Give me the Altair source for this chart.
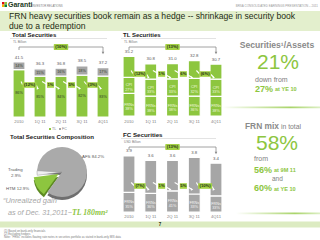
import math
import altair as alt
import pandas as pd

FONT = "Liberation Sans"
GREEN = "#8dc63f"
BOX = "#a4d145"
GRAY = "#a6a6a6"
DARK = "#1e2d14"
TGRAY = "#808080"

# ---------------- data ----------------
periods = ["2010", "1Q 11", "2Q 11", "3Q 11", "4Q11"]

total_vals = [41.5, 36.3, 36.8, 38.5, 37.2]
total_tl_pct = [86, 85, 84, 82, 83]
total_fc_pct = [14, 15, 16, 18, 17]
total_chg = ["(12%)", "1%", "5%", "(3%)"]
total_overall = "(10%)"

tl_vals = [35.2, 30.8, 31.0, 32.8, 30.7]
tl_cpi_pct = [27, 33, 33, 32, 33]
tl_frn_pct = [38, 38, 38, 36, 38]
tl_chg = ["(12%)", "1%", "6%", "(6%)"]
tl_overall = "(13%)"

fc_vals = [3.9, 3.6, 3.6, 3.8, 3.4]
fc_frn_pct = [35, 36, 41, 33, 33]
fc_chg = ["(7%)", "1%", "5%", "(10%)"]
fc_overall = "(13%)"

pie_cats = ["HTM", "Trading", "AFS"]
pie_vals = [12.9, 2.9, 84.2]

layers = []


def T(s, x, y, size=5, color=DARK, weight="normal", align="left", style="normal",
      font=FONT, baseline="middle"):
    return alt.Chart(pd.DataFrame({"t": [s]})).mark_text(
        align=align, baseline=baseline, fontSize=size, font=font, fontWeight=weight,
        fontStyle=style, color=color).encode(x=alt.value(x), y=alt.value(y), text="t:N")


def R(x, x2, y, y2, fill):
    return alt.Chart(pd.DataFrame({"k": [0]})).mark_rect(fill=fill).encode(
        x=alt.value(x), x2=alt.value(x2), y=alt.value(y), y2=alt.value(y2))


def seg_frame(totals, parts, shares, labels):
    rows = []
    for i, tot in enumerate(totals):
        base = 0.0
        for p, sh, lb in zip(parts, shares, labels):
            v = tot * sh[i] / 100.0
            rows.append({"idx": i, "part": p, "y0": base, "y1": base + v,
                         "ym": base + v / 2, "label": lb[i]})
            base += v
    return pd.DataFrame(rows)


def panel(seg, totals, chg, overall, x0, x1, ybot, ppu, parts, colors, lab_color,
          xlab_y, chg_y, br_y):
    xs = alt.Scale(domain=[0, 4], range=[x0, x1], nice=False, zero=False)
    ys = alt.Scale(domain=[0, 10], range=[ybot, ybot - 10 * ppu], nice=False, zero=False)
    step = (x1 - x0) / 4.0
    hw = 6.0 / step
    X = lambda f: alt.X(f, scale=xs, axis=None)
    Y = lambda f: alt.Y(f, scale=ys, axis=None)
    out = []
    seg = seg.assign(xa=seg.idx - hw, xb=seg.idx + hw)
    out.append(alt.Chart(seg).mark_rect(stroke="white", strokeWidth=1.2).encode(
        x=X("xa:Q"), x2="xb:Q", y=Y("y0:Q"), y2="y1:Q",
        color=alt.Color("part:N", scale=alt.Scale(domain=parts, range=colors), legend=None)))
    out.append(alt.Chart(seg[seg.label != ""]).mark_text(
        fontSize=3.8, font=FONT, color=lab_color, lineBreak="\n", lineHeight=4.4,
        align="center", baseline="middle").encode(x=X("idx:Q"), y=Y("ym:Q"), text="label:N"))
    tdf = pd.DataFrame({"idx": list(range(5)), "v": totals,
                        "s": [f"{v:.1f}" for v in totals]})
    out.append(alt.Chart(tdf).mark_text(fontSize=4.3, font=FONT, dy=-2.5, baseline="bottom",
                                        color="#595959").encode(
        x=X("idx:Q"), y=Y("v:Q"), text="s:N"))
    pdf = pd.DataFrame({"idx": list(range(5)), "p": periods})
    out.append(alt.Chart(pdf).mark_text(fontSize=4.2, font=FONT, color=TGRAY).encode(
        x=X("idx:Q"), y=alt.value(xlab_y), text="p:N"))
    # change labels with arrows
    cdf = pd.DataFrame({"c": [i + 0.5 for i in range(4)], "s": chg})
    cdf["bw"] = (cdf.s.str.len() * 2.3 + 2.5) / 2.0 / step
    cdf["l"] = cdf.c - cdf.bw
    cdf["r"] = cdf.c + cdf.bw
    cdf["a0"] = cdf.c - 0.4
    cdf["a1"] = cdf.c + 0.4
    out.append(alt.Chart(cdf).mark_rule(color="white", strokeWidth=1.1).encode(
        x=X("a0:Q"), x2="l:Q", y=alt.value(chg_y - 3.5), y2=alt.value(chg_y - 0.5)))
    out.append(alt.Chart(cdf).mark_rule(color="white", strokeWidth=1.1).encode(
        x=X("r:Q"), x2="a1:Q", y=alt.value(chg_y + 0.5), y2=alt.value(chg_y + 3.5)))
    out.append(alt.Chart(cdf).mark_point(shape="triangle-right", filled=True, size=7,
                                         color="white", opacity=1).encode(
        x=X("a1:Q"), y=alt.value(chg_y + 3.5)))
    out.append(alt.Chart(cdf).mark_rect(fill=BOX).encode(
        x=X("l:Q"), x2="r:Q", y=alt.value(chg_y - 2.8), y2=alt.value(chg_y + 2.8)))
    out.append(alt.Chart(cdf).mark_text(fontSize=4.2, font=FONT, fontWeight="bold",
                                        color=DARK).encode(
        x=X("c:Q"), y=alt.value(chg_y + 0.2), text="s:N"))
    # bracket
    bw = (len(overall) * 2.3 + 3) / 2.0 / step
    bdf = pd.DataFrame({"a": [0], "b": [4], "m": [2], "ml": [2 - bw], "mr": [2 + bw],
                        "s": [overall]})
    out.append(alt.Chart(bdf).mark_rule(color="#8c8c8c", strokeWidth=0.8).encode(
        x=X("a:Q"), x2="b:Q", y=alt.value(br_y)))
    out.append(alt.Chart(bdf).mark_rule(color="#8c8c8c", strokeWidth=0.8).encode(
        x=X("a:Q"), y=alt.value(br_y), y2=alt.value(br_y + 3)))
    out.append(alt.Chart(bdf).mark_rule(color="#8c8c8c", strokeWidth=0.8).encode(
        x=X("b:Q"), y=alt.value(br_y), y2=alt.value(br_y + 5.5)))
    out.append(alt.Chart(bdf).mark_point(shape="triangle-down", filled=True, size=7,
                                         color="#8c8c8c", opacity=1).encode(
        x=X("b:Q"), y=alt.value(br_y + 6)))
    out.append(alt.Chart(bdf).mark_rect(fill=BOX, cornerRadius=1).encode(
        x=X("ml:Q"), x2="mr:Q", y=alt.value(br_y - 3), y2=alt.value(br_y + 3)))
    out.append(alt.Chart(bdf).mark_text(fontSize=4.3, font=FONT, fontWeight="bold",
                                        color=DARK).encode(
        x=X("m:Q"), y=alt.value(br_y + 0.2), text="s:N"))
    return out


# ---------------- header & title band ----------------
layers.append(R(2, 4.5, 2, 4.5, "#e30613"))
layers.append(R(4.5, 7, 2, 4.5, GREEN))
layers.append(R(2, 4.5, 4.5, 7, "#f9b000"))
layers.append(R(4.5, 7, 4.5, 7, "#00843d"))
layers.append(T("Garanti", 8, 5, 7, color="#1b3a1b", weight="bold"))
layers.append(T("INVESTOR RELATIONS", 32, 5.3, 2.8, color="#7a7a7a"))
layers.append(T("BRSA CONSOLIDATED EARNINGS PRESENTATION – 2011", 318, 5.3, 3, color="#9a9a9a",
                align="right"))
layers.append(R(0, 320, 11, 31, "#e3efcd"))
layers.append(T("FRN heavy securities book remain as a hedge  -- shrinkage in security book",
                9, 16, 8.6, color=DARK))
layers.append(T("due to a redemption", 9, 26, 8.6, color=DARK))

# ---------------- section titles ----------------
layers.append(T("Total Securities", 12, 35, 6, weight="bold", color="#1a1a1a"))
layers.append(R(10, 107, 38.3, 38.8, "#c8c8c8"))
layers.append(T("TL Billion", 13, 41.5, 3.3, color=TGRAY))
layers.append(T("TL Securities", 123, 35, 6, weight="bold", color="#1a1a1a"))
layers.append(R(121, 216, 38.3, 38.8, "#c8c8c8"))
layers.append(T("TL Billion", 124, 41.5, 3.3, color=TGRAY))
layers.append(T("FC Securities", 123, 135, 6.2, weight="bold", color="#1a1a1a"))
layers.append(R(121, 216, 138.3, 138.8, "#c8c8c8"))
layers.append(T("USD Billion", 124, 142, 3.3, color=TGRAY))

# ---------------- bar panels ----------------
tot_seg = seg_frame(total_vals, ["TL", "FC"], [total_tl_pct, total_fc_pct],
                    [[f"{p}%" for p in total_tl_pct], [f"{p}%" for p in total_fc_pct]])
layers += panel(tot_seg, total_vals, total_chg, total_overall, 19, 103, 117, 1.325,
                ["TL", "FC"], [GREEN, GRAY], "#33402a", 122, 85, 47)

tl_other = [100 - a - b for a, b in zip(tl_cpi_pct, tl_frn_pct)]
tl_seg = seg_frame(tl_vals, ["FRNs", "CPI", "Other"], [tl_frn_pct, tl_cpi_pct, tl_other],
                   [[f"FRNs\n{p}%" for p in tl_frn_pct], [f"CPI\n{p}%" for p in tl_cpi_pct],
                    [""] * 5])
layers += panel(tl_seg, tl_vals, tl_chg, tl_overall, 129, 216, 116, 1.69,
                ["FRNs", "CPI", "Other"], [GREEN, GREEN, GREEN], "#eef7df", 122, 74, 47)

fc_other = [100 - a for a in fc_frn_pct]
fc_seg = seg_frame(fc_vals, ["FRNs", "Other"], [fc_frn_pct, fc_other],
                   [[f"FRNs\n{p}%" for p in fc_frn_pct], [""] * 5])
layers += panel(fc_seg, fc_vals, fc_chg, fc_overall, 129, 216, 212, 14.36,
                ["FRNs", "Other"], [GRAY, GRAY], "#f4f4f4", 217, 186, 147)

# legend of total securities
layers.append(alt.Chart(pd.DataFrame({"k": [0]})).mark_square(size=4, color=GREEN, opacity=1).encode(
    x=alt.value(50), y=alt.value(129)))
layers.append(T("TL", 52, 129.2, 3.6, color=TGRAY))
layers.append(alt.Chart(pd.DataFrame({"k": [0]})).mark_square(size=4, color=GRAY, opacity=1).encode(
    x=alt.value(60), y=alt.value(129)))
layers.append(T("FC", 62, 129.2, 3.6, color=TGRAY))

# ---------------- pie ----------------
layers.append(T("Total Securities Composition", 10, 137, 6.1, weight="bold", color="#1a1a1a"))
start = math.radians(216)
ts = alt.Scale(domain=[0, 100], range=[start, start + 2 * math.pi])
pie = pd.DataFrame({"cat": pie_cats, "v": pie_vals})
pie["t1"] = pie.v.cumsum()
pie["t0"] = pie.t1 - pie.v
cx, cy, rad = 62, 172, 25
htm = pie[pie.cat == "HTM"].iloc[0]
mid = start + 2 * math.pi * (htm.t0 + htm.t1) / 200.0
ex, ey = 4 * math.sin(mid), -4 * math.cos(mid)


def arc(df, x, y, fill, stroke=None):
    kw = dict(outerRadius=rad, fill=fill)
    if stroke:
        kw.update(stroke=stroke, strokeWidth=0.5)
    return alt.Chart(df).mark_arc(**kw).encode(
        theta=alt.Theta("t0:Q", scale=ts), theta2="t1:Q", x=alt.value(x), y=alt.value(y))


layers.append(arc(pie[pie.cat == "AFS"], cx, cy + 3, "#6f6f6f"))
layers.append(arc(pie[pie.cat == "HTM"], cx + ex, cy + ey + 3, "#5d8a22"))
layers.append(arc(pie[pie.cat == "AFS"], cx, cy, "#aaaaaa"))
layers.append(arc(pie[pie.cat == "Trading"], cx, cy, "#f0f0f0", stroke="#9a9a9a"))
layers.append(arc(pie[pie.cat == "HTM"], cx + ex, cy + ey, GREEN))
layers.append(T(f"AFS  {pie_vals[2]}%", 82, 157, 4.4, color="#595959"))
layers.append(T("Trading", 8, 170, 4.4, color="#595959"))
layers.append(T(f"{pie_vals[1]}%", 11, 175.5, 4.4, color="#595959"))
layers.append(T(f"HTM  {pie_vals[0]}%", 6, 189, 4.4, color="#595959"))

# unrealized gain
layers.append(T("“Unrealized gain", 3, 201, 7.4, color="#a6a6a6", style="italic"))
layers.append(T("as of Dec. 31,2011~", 8, 213, 7.2, color="#a6a6a6", style="italic"))
layers.append(T("TL 180mn²", 72, 213, 7.8, color=GREEN, style="italic", weight="bold",
                font="Liberation Serif"))

# ---------------- right text block ----------------
grad = alt.LinearGradient(gradient="linear", x1=0, x2=1, y1=0, y2=0,
                          stops=[alt.GradientStop(color="#ffffff", offset=0),
                                 alt.GradientStop(color="#a9d46a", offset=0.7),
                                 alt.GradientStop(color="#dcefc4", offset=1)])
layers.append(T("Securities¹/Assets", 277, 45, 8.6, color="#8a8a8a", weight="bold", align="center"))
layers.append(T("21%", 278, 62.5, 21, color=GREEN, align="center"))
layers.append(T("down from", 255, 79.5, 7, color=TGRAY))
layers.append(T("27%", 255, 88.5, 9, color=GREEN, weight="bold"))
layers.append(T("at YE 10", 275, 89.1, 5.6, color=GREEN, weight="bold"))
layers.append(alt.Chart(pd.DataFrame({"k": [0]})).mark_rect(fill=grad).encode(
    x=alt.value(222), x2=alt.value(320), y=alt.value(106.5), y2=alt.value(108.2)))
layers.append(T("FRN mix", 245, 126, 8.4, color="#8a8a8a", weight="bold"))
layers.append(T("in total", 281, 126.6, 6.8, color=TGRAY))
layers.append(T("58%", 277, 143.5, 21, color=GREEN, align="center"))
layers.append(T("from", 254, 159, 7, color=TGRAY))
layers.append(T("56%", 254, 169.5, 9, color=GREEN, weight="bold"))
layers.append(T("at 9M 11", 274, 170.1, 5.6, color=GREEN, weight="bold"))
layers.append(T("and", 272, 178.5, 6.5, color=TGRAY))
layers.append(T("60%", 254, 188, 9, color=GREEN, weight="bold"))
layers.append(T("at YE 10", 274, 188.6, 5.6, color=GREEN, weight="bold"))
layers.append(alt.Chart(pd.DataFrame({"k": [0]})).mark_rect(fill=grad).encode(
    x=alt.value(236), x2=alt.value(320), y=alt.value(212.5), y2=alt.value(214.2)))

# ---------------- footer ----------------
layers.append(R(0, 320, 221.5, 227.5, "#dcebc2"))
layers.append(T("7", 160, 224.7, 4.5, color=DARK, weight="bold", align="center"))
layers.append(T("(1) Based on bank-only financials", 4, 230.5, 2.8, color="#7a7a7a"))
layers.append(T("(2) Excluding hedges", 4, 233.5, 2.8, color="#7a7a7a"))
layers.append(T("Note: \"FRNs\" includes floating rate notes in securities portfolio as stated in bank-only MIS data",
                4, 236.5, 2.8, color="#7a7a7a"))

chart = (
    alt.layer(*layers)
    .resolve_scale(x="independent", y="independent", theta="independent", color="independent")
    .properties(width=320, height=240, padding=0, autosize="none", background="white")
    .configure_view(stroke=None)
)
chart.save("out.html", embed_options={"renderer": "svg", "actions": False})
